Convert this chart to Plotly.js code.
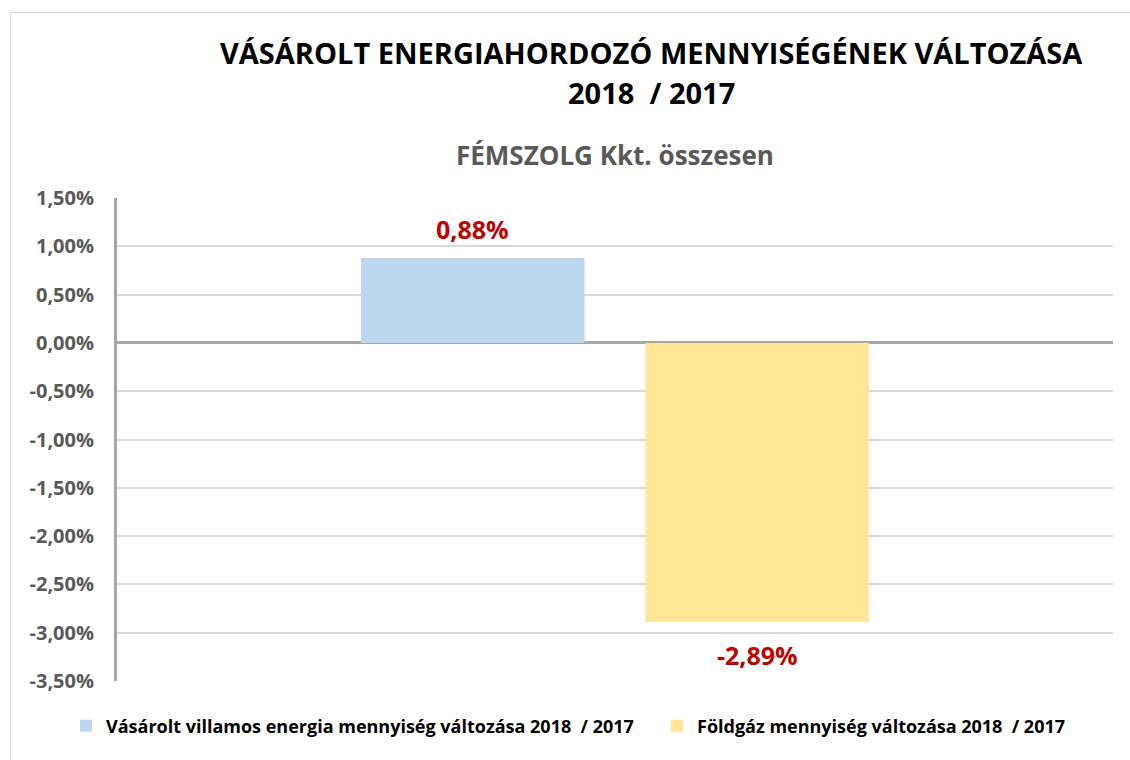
<!DOCTYPE html>
<html><head><meta charset="utf-8">
<script src="https://cdn.plot.ly/plotly-3.0.1.min.js"></script>
<style>
html,body{margin:0;padding:0;background:#fff;}
#wrap{position:relative;width:1130px;height:760px;overflow:hidden;}
#frame{position:absolute;left:10px;top:12px;width:1130px;height:800px;border:1px solid #d9d9d9;box-sizing:border-box;pointer-events:none;}
#chart{position:absolute;left:0;top:0;width:1130px;height:760px;}
</style></head>
<body><div id="wrap"><div id="chart"></div><div id="frame"></div></div>
<script>
const categories = ["FÉMSZOLG Kkt. összesen"];
const seriesNames = ["Vásárolt villamos energia mennyiség változása 2018  / 2017", "Földgáz mennyiség változása 2018  / 2017"];
const villamosValues = [0.0088];
const foldgazValues = [-0.0289];
const tickValues = [-0.035,-0.03,-0.025,-0.02,-0.015,-0.01,-0.005,0,0.005,0.01,0.015];
const tickLabels = ["-3,50%","-3,00%","-2,50%","-2,00%","-1,50%","-1,00%","-0,50%","0,00%","0,50%","1,00%","1,50%"];
const F = "Open Sans, Lato, sans-serif";

function pct(v){ return (v*100).toFixed(2).replace('.',',') + '%'; }

const traces = [
  {type:'bar', name:seriesNames[0], x:categories, y:villamosValues, marker:{color:'#bdd7ee'},
   hoverinfo:'skip', legend:'legend'},
  {type:'bar', name:seriesNames[1], x:categories, y:foldgazValues, marker:{color:'#ffe699'},
   hoverinfo:'skip', legend:'legend2'}
];
const bargap = 0.429, bargroupgap = 0.214;
const plotW = 1130-117-17;
const slotPx = plotW*(1-bargap)/2;
const labelFont = {family:F, size:25, color:'#c00000', weight:'bold'};
const legFont = {family:F, size:18, color:'#000', weight:'bold'};
const annotations = [
  {xref:'paper', yref:'paper', x:(651-117)/996, y:1, yshift:198-52, xanchor:'center', yanchor:'middle', showarrow:false,
   text:'VÁSÁROLT ENERGIAHORDOZÓ MENNYISÉGÉNEK VÁLTOZÁSA', font:{family:F, size:29, color:'#000', weight:'bold'}},
  {xref:'paper', yref:'paper', x:(651-117)/996, y:1, yshift:198-92, xanchor:'center', yanchor:'middle', showarrow:false,
   text:'2018  / 2017', font:{family:F, size:29, color:'#000', weight:'bold'}},
  {xref:'paper', yref:'paper', x:0.5, y:1, yshift:198-155, xanchor:'center', yanchor:'middle', showarrow:false,
   text:'FÉMSZOLG Kkt. összesen', font:{family:F, size:26, color:'#595959', weight:'bold'}}
];
villamosValues.forEach((v,i)=>annotations.push({xref:'x', yref:'y', x:categories[i], y:v, xshift:-slotPx/2, yshift: v>=0?29:-33,
  xanchor:'center', yanchor:'middle', showarrow:false, text:pct(v), font:labelFont}));
foldgazValues.forEach((v,i)=>annotations.push({xref:'x', yref:'y', x:categories[i], y:v, xshift:slotPx/2, yshift: v>=0?29:-33,
  xanchor:'center', yanchor:'middle', showarrow:false, text:pct(v), font:labelFont}));

const layout = {
  width:1130, height:760,
  margin:{l:117, r:17, t:198, b:79},
  paper_bgcolor:'#fff', plot_bgcolor:'#fff',
  barmode:'group', bargap:bargap, bargroupgap:bargroupgap,
  font:{family:F, color:'#000'},
  showlegend:true,
  legend:{orientation:'h', x:(66-117)/996, xanchor:'left', y:-0.055, yanchor:'top', font:legFont, bgcolor:'rgba(0,0,0,0)'},
  legend2:{orientation:'h', x:(657-117)/996, xanchor:'left', y:-0.055, yanchor:'top', font:legFont, bgcolor:'rgba(0,0,0,0)'},
  xaxis:{showticklabels:false, showgrid:false, zeroline:false, showline:false, fixedrange:true},
  yaxis:{range:[-0.035,0.015], tickvals:tickValues, ticktext:tickLabels, showgrid:true, gridcolor:'#d9d9d9', gridwidth:2,
    zeroline:true, zerolinecolor:'#a6a6a6', zerolinewidth:3, showline:true, linecolor:'#a6a6a6', linewidth:3,
    ticks:'', ticklen:0, ticklabelstandoff:16, tickfont:{family:F, size:20, color:'#595959', weight:'bold'}, fixedrange:true},
  annotations:annotations
};
Plotly.newPlot('chart', traces, layout, {displayModeBar:false, staticPlot:true});
</script></body></html>
